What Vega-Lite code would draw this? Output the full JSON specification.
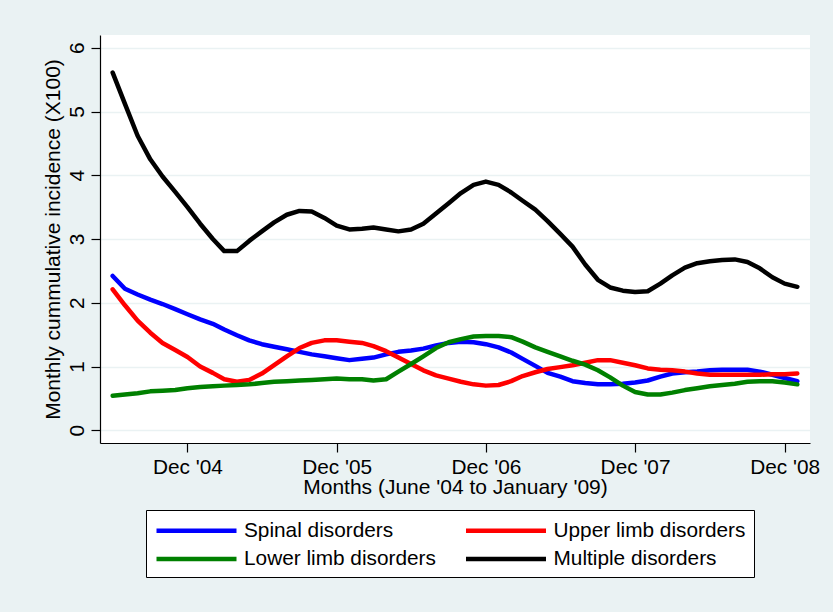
{
  "$schema": "https://vega.github.io/schema/vega-lite/v6.json",
  "width": 710,
  "height": 408,
  "autosize": {"type": "none"},
  "padding": {"left": 100, "top": 35, "right": 23, "bottom": 169},
  "background": "#eaf2f3",
  "config": {
    "font": "Liberation Sans",
    "view": {"fill": "#ffffff", "stroke": null},
    "axis": {
      "labelFont": "Liberation Sans",
      "titleFont": "Liberation Sans",
      "labelFontSize": 20.8,
      "titleFontSize": 21,
      "labelColor": "#000000",
      "titleColor": "#000000",
      "titleFontWeight": "normal",
      "domainColor": "#000000",
      "domainWidth": 1.2,
      "tickColor": "#000000",
      "tickWidth": 1.2,
      "tickSize": 9
    },
    "legend": {
      "labelFont": "Liberation Sans",
      "labelFontSize": 20.8,
      "labelColor": "#000000",
      "labelLimit": 400
    }
  },
  "data": {
    "values": [
      {"month": "2004-06-01T00:00", "Spinal disorders": 2.42, "Upper limb disorders": 2.21, "Lower limb disorders": 0.54, "Multiple disorders": 5.61},
      {"month": "2004-07-01T00:00", "Spinal disorders": 2.22, "Upper limb disorders": 1.96, "Lower limb disorders": 0.56, "Multiple disorders": 5.12},
      {"month": "2004-08-01T00:00", "Spinal disorders": 2.13, "Upper limb disorders": 1.72, "Lower limb disorders": 0.58, "Multiple disorders": 4.62},
      {"month": "2004-09-01T00:00", "Spinal disorders": 2.05, "Upper limb disorders": 1.53, "Lower limb disorders": 0.61, "Multiple disorders": 4.25},
      {"month": "2004-10-01T00:00", "Spinal disorders": 1.98, "Upper limb disorders": 1.37, "Lower limb disorders": 0.62, "Multiple disorders": 3.98},
      {"month": "2004-11-01T00:00", "Spinal disorders": 1.90, "Upper limb disorders": 1.26, "Lower limb disorders": 0.63, "Multiple disorders": 3.74},
      {"month": "2004-12-01T00:00", "Spinal disorders": 1.82, "Upper limb disorders": 1.15, "Lower limb disorders": 0.66, "Multiple disorders": 3.50},
      {"month": "2005-01-01T00:00", "Spinal disorders": 1.74, "Upper limb disorders": 1.00, "Lower limb disorders": 0.68, "Multiple disorders": 3.24},
      {"month": "2005-02-01T00:00", "Spinal disorders": 1.67, "Upper limb disorders": 0.90, "Lower limb disorders": 0.69, "Multiple disorders": 3.00},
      {"month": "2005-03-01T00:00", "Spinal disorders": 1.58, "Upper limb disorders": 0.80, "Lower limb disorders": 0.70, "Multiple disorders": 2.81},
      {"month": "2005-04-01T00:00", "Spinal disorders": 1.49, "Upper limb disorders": 0.76, "Lower limb disorders": 0.71, "Multiple disorders": 2.81},
      {"month": "2005-05-01T00:00", "Spinal disorders": 1.41, "Upper limb disorders": 0.79, "Lower limb disorders": 0.72, "Multiple disorders": 2.97},
      {"month": "2005-06-01T00:00", "Spinal disorders": 1.35, "Upper limb disorders": 0.89, "Lower limb disorders": 0.74, "Multiple disorders": 3.12},
      {"month": "2005-07-01T00:00", "Spinal disorders": 1.31, "Upper limb disorders": 1.02, "Lower limb disorders": 0.76, "Multiple disorders": 3.26},
      {"month": "2005-08-01T00:00", "Spinal disorders": 1.27, "Upper limb disorders": 1.16, "Lower limb disorders": 0.77, "Multiple disorders": 3.38},
      {"month": "2005-09-01T00:00", "Spinal disorders": 1.23, "Upper limb disorders": 1.29, "Lower limb disorders": 0.78, "Multiple disorders": 3.44},
      {"month": "2005-10-01T00:00", "Spinal disorders": 1.19, "Upper limb disorders": 1.37, "Lower limb disorders": 0.79, "Multiple disorders": 3.43},
      {"month": "2005-11-01T00:00", "Spinal disorders": 1.16, "Upper limb disorders": 1.41, "Lower limb disorders": 0.80, "Multiple disorders": 3.33},
      {"month": "2005-12-01T00:00", "Spinal disorders": 1.13, "Upper limb disorders": 1.41, "Lower limb disorders": 0.81, "Multiple disorders": 3.21},
      {"month": "2006-01-01T00:00", "Spinal disorders": 1.10, "Upper limb disorders": 1.39, "Lower limb disorders": 0.80, "Multiple disorders": 3.15},
      {"month": "2006-02-01T00:00", "Spinal disorders": 1.12, "Upper limb disorders": 1.37, "Lower limb disorders": 0.80, "Multiple disorders": 3.16},
      {"month": "2006-03-01T00:00", "Spinal disorders": 1.14, "Upper limb disorders": 1.32, "Lower limb disorders": 0.78, "Multiple disorders": 3.18},
      {"month": "2006-04-01T00:00", "Spinal disorders": 1.19, "Upper limb disorders": 1.24, "Lower limb disorders": 0.80, "Multiple disorders": 3.15},
      {"month": "2006-05-01T00:00", "Spinal disorders": 1.23, "Upper limb disorders": 1.14, "Lower limb disorders": 0.92, "Multiple disorders": 3.12},
      {"month": "2006-06-01T00:00", "Spinal disorders": 1.25, "Upper limb disorders": 1.04, "Lower limb disorders": 1.04, "Multiple disorders": 3.15},
      {"month": "2006-07-01T00:00", "Spinal disorders": 1.28, "Upper limb disorders": 0.94, "Lower limb disorders": 1.16, "Multiple disorders": 3.24},
      {"month": "2006-08-01T00:00", "Spinal disorders": 1.33, "Upper limb disorders": 0.86, "Lower limb disorders": 1.29, "Multiple disorders": 3.40},
      {"month": "2006-09-01T00:00", "Spinal disorders": 1.37, "Upper limb disorders": 0.81, "Lower limb disorders": 1.38, "Multiple disorders": 3.56},
      {"month": "2006-10-01T00:00", "Spinal disorders": 1.39, "Upper limb disorders": 0.76, "Lower limb disorders": 1.43, "Multiple disorders": 3.72},
      {"month": "2006-11-01T00:00", "Spinal disorders": 1.38, "Upper limb disorders": 0.72, "Lower limb disorders": 1.47, "Multiple disorders": 3.85},
      {"month": "2006-12-01T00:00", "Spinal disorders": 1.35, "Upper limb disorders": 0.70, "Lower limb disorders": 1.48, "Multiple disorders": 3.90},
      {"month": "2007-01-01T00:00", "Spinal disorders": 1.30, "Upper limb disorders": 0.71, "Lower limb disorders": 1.48, "Multiple disorders": 3.85},
      {"month": "2007-02-01T00:00", "Spinal disorders": 1.22, "Upper limb disorders": 0.77, "Lower limb disorders": 1.46, "Multiple disorders": 3.73},
      {"month": "2007-03-01T00:00", "Spinal disorders": 1.12, "Upper limb disorders": 0.85, "Lower limb disorders": 1.39, "Multiple disorders": 3.60},
      {"month": "2007-04-01T00:00", "Spinal disorders": 1.01, "Upper limb disorders": 0.91, "Lower limb disorders": 1.30, "Multiple disorders": 3.46},
      {"month": "2007-05-01T00:00", "Spinal disorders": 0.90, "Upper limb disorders": 0.96, "Lower limb disorders": 1.23, "Multiple disorders": 3.28},
      {"month": "2007-06-01T00:00", "Spinal disorders": 0.84, "Upper limb disorders": 0.99, "Lower limb disorders": 1.16, "Multiple disorders": 3.08},
      {"month": "2007-07-01T00:00", "Spinal disorders": 0.77, "Upper limb disorders": 1.02, "Lower limb disorders": 1.09, "Multiple disorders": 2.88},
      {"month": "2007-08-01T00:00", "Spinal disorders": 0.74, "Upper limb disorders": 1.06, "Lower limb disorders": 1.03, "Multiple disorders": 2.60},
      {"month": "2007-09-01T00:00", "Spinal disorders": 0.72, "Upper limb disorders": 1.10, "Lower limb disorders": 0.94, "Multiple disorders": 2.36},
      {"month": "2007-10-01T00:00", "Spinal disorders": 0.72, "Upper limb disorders": 1.10, "Lower limb disorders": 0.83, "Multiple disorders": 2.24},
      {"month": "2007-11-01T00:00", "Spinal disorders": 0.73, "Upper limb disorders": 1.06, "Lower limb disorders": 0.70, "Multiple disorders": 2.19},
      {"month": "2007-12-01T00:00", "Spinal disorders": 0.75, "Upper limb disorders": 1.02, "Lower limb disorders": 0.60, "Multiple disorders": 2.17},
      {"month": "2008-01-01T00:00", "Spinal disorders": 0.78, "Upper limb disorders": 0.97, "Lower limb disorders": 0.56, "Multiple disorders": 2.18},
      {"month": "2008-02-01T00:00", "Spinal disorders": 0.84, "Upper limb disorders": 0.95, "Lower limb disorders": 0.56, "Multiple disorders": 2.30},
      {"month": "2008-03-01T00:00", "Spinal disorders": 0.89, "Upper limb disorders": 0.94, "Lower limb disorders": 0.59, "Multiple disorders": 2.43},
      {"month": "2008-04-01T00:00", "Spinal disorders": 0.91, "Upper limb disorders": 0.92, "Lower limb disorders": 0.63, "Multiple disorders": 2.55},
      {"month": "2008-05-01T00:00", "Spinal disorders": 0.92, "Upper limb disorders": 0.89, "Lower limb disorders": 0.66, "Multiple disorders": 2.62},
      {"month": "2008-06-01T00:00", "Spinal disorders": 0.94, "Upper limb disorders": 0.87, "Lower limb disorders": 0.69, "Multiple disorders": 2.65},
      {"month": "2008-07-01T00:00", "Spinal disorders": 0.95, "Upper limb disorders": 0.87, "Lower limb disorders": 0.71, "Multiple disorders": 2.67},
      {"month": "2008-08-01T00:00", "Spinal disorders": 0.95, "Upper limb disorders": 0.87, "Lower limb disorders": 0.73, "Multiple disorders": 2.68},
      {"month": "2008-09-01T00:00", "Spinal disorders": 0.95, "Upper limb disorders": 0.87, "Lower limb disorders": 0.76, "Multiple disorders": 2.64},
      {"month": "2008-10-01T00:00", "Spinal disorders": 0.92, "Upper limb disorders": 0.87, "Lower limb disorders": 0.77, "Multiple disorders": 2.54},
      {"month": "2008-11-01T00:00", "Spinal disorders": 0.87, "Upper limb disorders": 0.88, "Lower limb disorders": 0.77, "Multiple disorders": 2.40},
      {"month": "2008-12-01T00:00", "Spinal disorders": 0.82, "Upper limb disorders": 0.88, "Lower limb disorders": 0.75, "Multiple disorders": 2.30},
      {"month": "2009-01-01T00:00", "Spinal disorders": 0.77, "Upper limb disorders": 0.89, "Lower limb disorders": 0.72, "Multiple disorders": 2.25}
    ]
  },
  "transform": [
    {"fold": ["Spinal disorders", "Upper limb disorders", "Lower limb disorders", "Multiple disorders"], "as": ["group", "value"]}
  ],
  "mark": {"type": "line", "strokeWidth": 4.5, "strokeCap": "round", "strokeJoin": "round"},
  "encoding": {
    "x": {
      "field": "month",
      "type": "temporal",
      "scale": {"domain": [{"year": 2004, "month": 5, "date": 1}, {"year": 2009, "month": 2, "date": 1}], "nice": false},
      "axis": {
        "values": [
          {"year": 2004, "month": 12, "date": 1},
          {"year": 2005, "month": 12, "date": 1},
          {"year": 2006, "month": 12, "date": 1},
          {"year": 2007, "month": 12, "date": 1},
          {"year": 2008, "month": 12, "date": 1}
        ],
        "format": "%b '%y",
        "grid": false,
        "labelPadding": 5,
        "labelBaseline": "top",
        "labelAlign": "center",
        "title": "Months (June '04 to January '09)",
        "titlePadding": 0
      }
    },
    "y": {
      "field": "value",
      "type": "quantitative",
      "scale": {"domain": [-0.2, 6.2], "nice": false, "zero": false},
      "axis": {
        "values": [0, 1, 2, 3, 4, 5, 6],
        "labelAngle": -90,
        "labelAlign": "center",
        "labelBaseline": "bottom",
        "labelPadding": 4,
        "grid": true,
        "gridColor": "#eaf2f3",
        "gridWidth": 1.6,
        "title": "Monthly cummulative incidence (X100)",
        "titlePadding": 3
      }
    },
    "color": {
      "field": "group",
      "type": "nominal",
      "scale": {
        "domain": ["Spinal disorders", "Upper limb disorders", "Lower limb disorders", "Multiple disorders"],
        "range": ["#0000ff", "#ff0000", "#008000", "#000000"]
      },
      "legend": {
        "orient": "none",
        "direction": "horizontal",
        "legendX": 46,
        "legendY": 475,
        "title": null,
        "columns": 2,
        "columnPadding": 20.5,
        "rowPadding": 5.5,
        "padding": 8,
        "strokeColor": "#000000",
        "fillColor": "#ffffff",
        "cornerRadius": 0,
        "symbolType": "M-4,0H4",
        "symbolSize": 400,
        "symbolStrokeWidth": 4.5,
        "symbolOffset": 30,
        "labelOffset": 35
      }
    }
  }
}
